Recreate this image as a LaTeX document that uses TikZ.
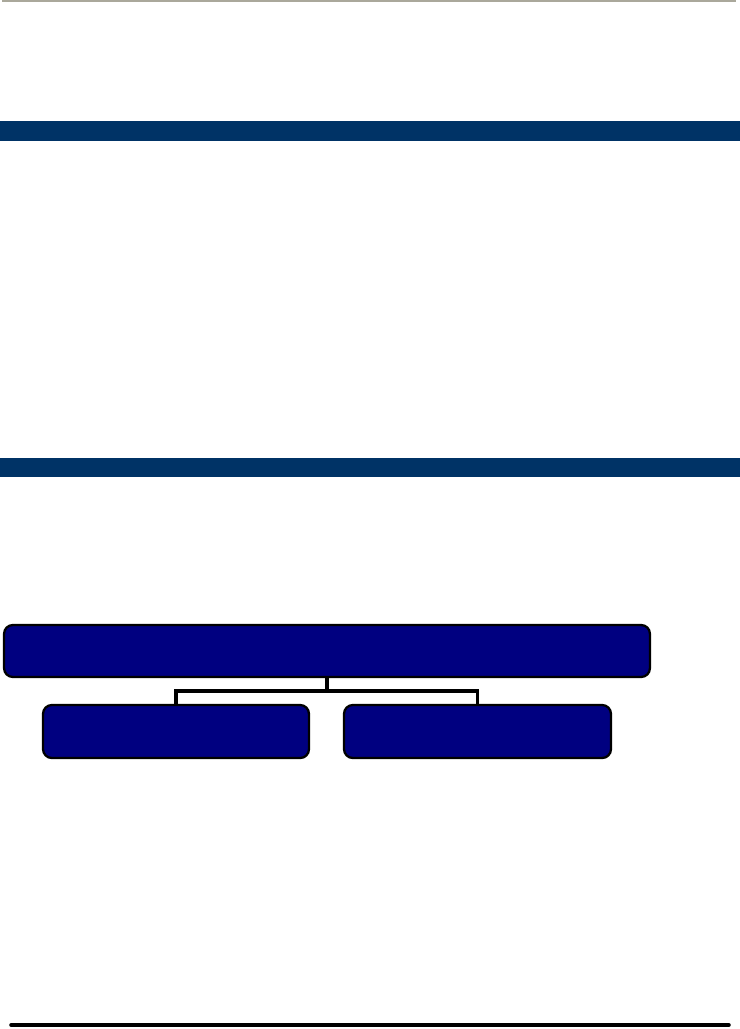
\documentclass[tikz,border=0pt]{standalone}
\usetikzlibrary{positioning}

\definecolor{barblue}{RGB}{0,51,102}
\definecolor{boxnavy}{RGB}{0,0,128}
\definecolor{rulegray}{RGB}{170,168,155}

\tikzset{
  orgbox/.style={draw=black, line width=1.3pt, fill=boxnavy, rounded corners=5pt,
    inner sep=0pt, outer sep=0pt},
  orgline/.style={line width=2.2pt, black}
}

\begin{document}
\begin{tikzpicture}[x=0.02cm, y=-0.02cm]
  \useasboundingbox (0,0) rectangle (740,1029);
  % page rules and section bars
  \draw [rulegray, line width=1.6pt] (2,1) -- (736,1);
  \foreach \ytop/\ybot in {121/141, 458/477}
    \fill [barblue] (0,\ytop) rectangle (740,\ybot);
  \draw [line width=2pt, line cap=round] (11,1025) -- (729,1025);
  % chart
  \node [orgbox, minimum width=12.92cm, minimum height=1.04cm] (head) at (327,651) {};
  \node [orgbox, minimum width=5.32cm, minimum height=1.06cm] (left) at (176,731.5) {};
  \node [orgbox, minimum width=5.34cm, minimum height=1.06cm] (right) at (477.5,731.5) {};
  \coordinate (fork) at (327,691);
  \draw [orgline] (head.south) -- (fork);
  \draw [orgline] (left.north) |- (fork) -| (right.north);
\end{tikzpicture}
\end{document}
